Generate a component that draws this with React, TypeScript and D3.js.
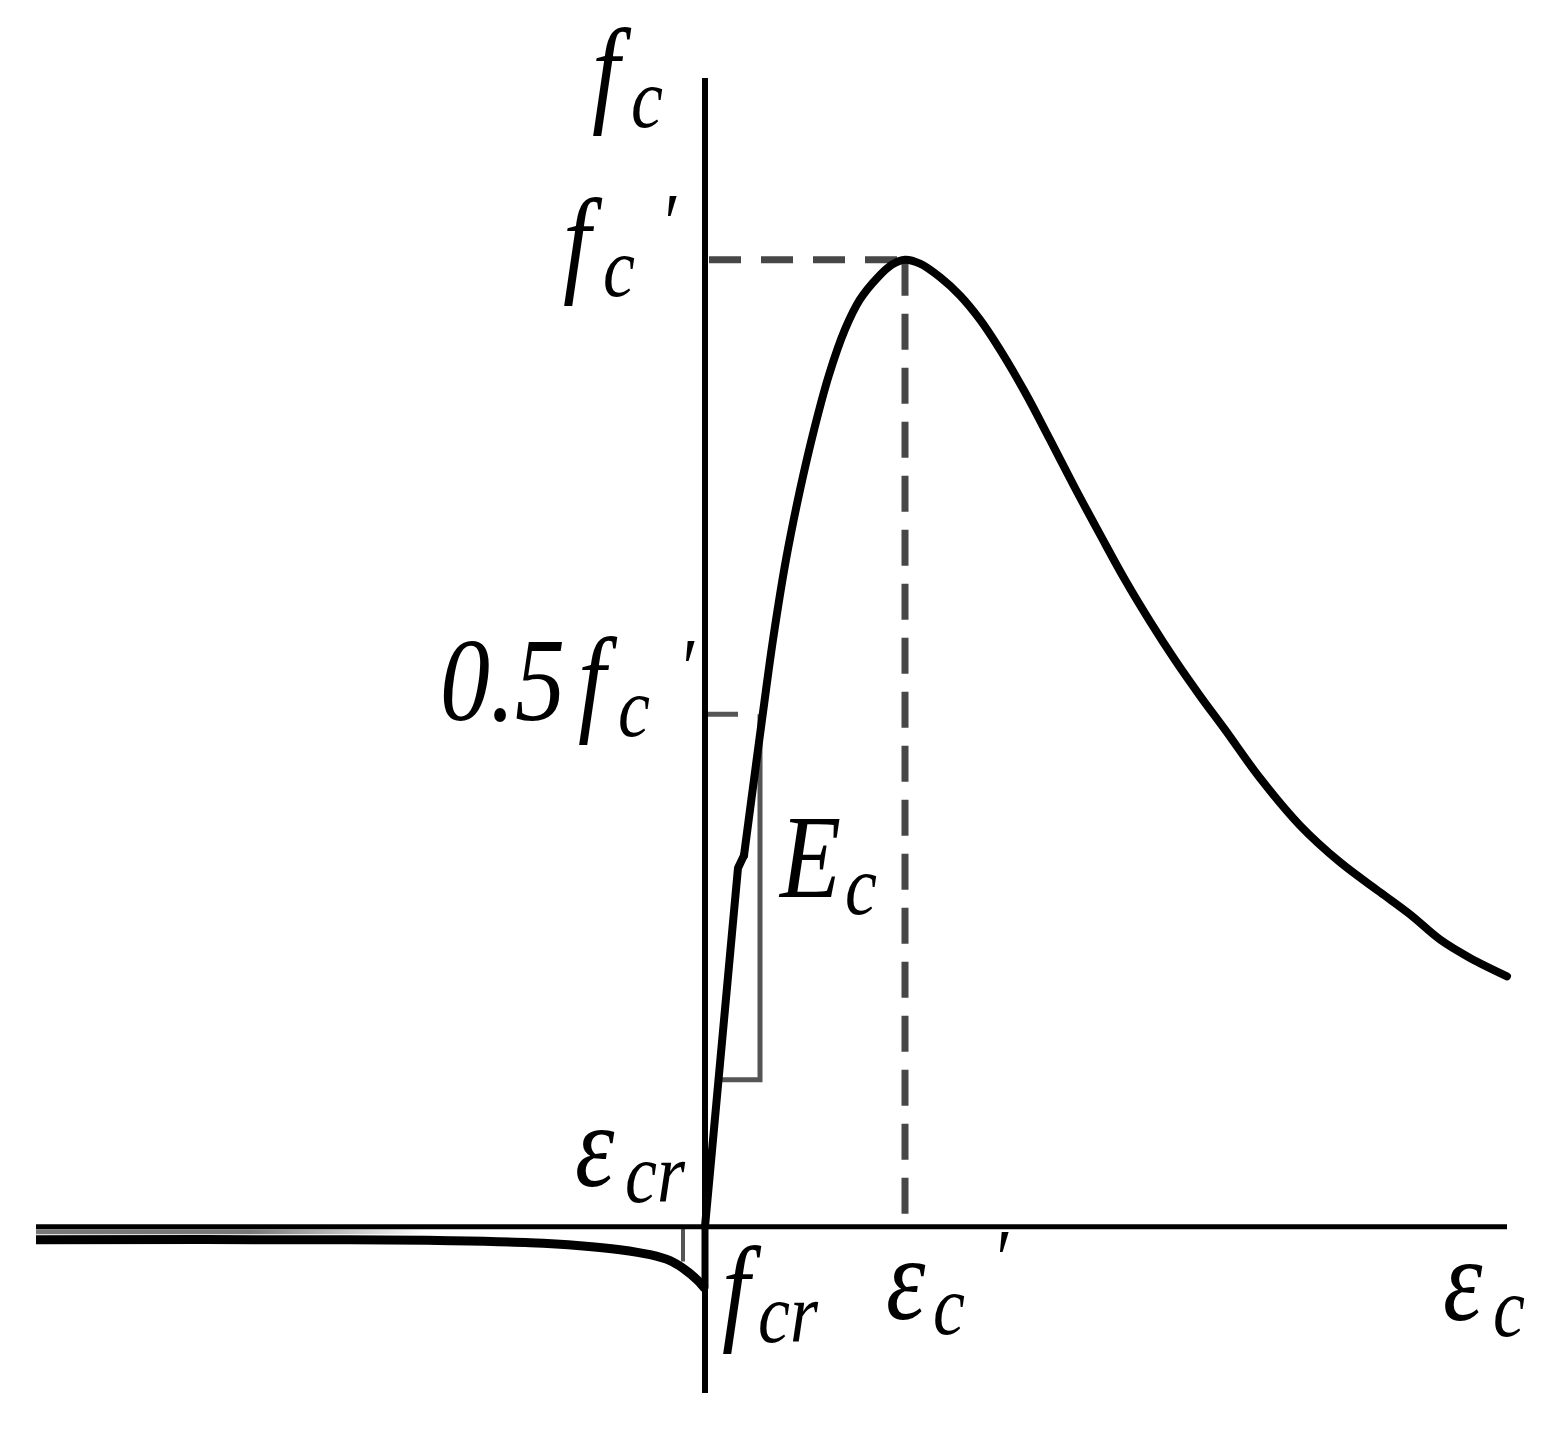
import React from 'react';
import * as d3 from 'd3';

const W = 1561;
const H = 1430;

// strain in units of eps_c', stress in units of f_c'
const tensionStrain = [-3.345, -1.775, -1.275, -0.875, -0.625, -0.425, -0.275, -0.175, -0.1, -0.04, 0];
const tensionStress = [-0.0135, -0.0135, -0.0145, -0.0165, -0.0196, -0.0238, -0.029, -0.0352, -0.0445, -0.0548, -0.0641];

const compStrain = [0, 0.165, 0.195, 0.232, 0.29, 0.34, 0.405, 0.475, 0.545, 0.62, 0.7, 0.775, 0.86, 0.935, 1.0,
  1.075, 1.175, 1.275, 1.375, 1.475, 1.6, 1.725, 1.85, 1.975, 2.1, 2.225, 2.35, 2.475, 2.6, 2.775, 2.975, 3.175, 3.375,
  3.525, 3.675, 3.825, 4.01];
const compStress = [0, 0.371, 0.384, 0.442, 0.532, 0.607, 0.69, 0.762, 0.824, 0.881, 0.928, 0.959, 0.981, 0.995, 1.0,
  0.996, 0.982, 0.963, 0.938, 0.907, 0.863, 0.814, 0.764, 0.716, 0.669, 0.626, 0.586, 0.549, 0.514, 0.464, 0.415, 0.377, 0.346,
  0.323, 0.297, 0.278, 0.259];
// the first points (elastic part with its small kink) are joined by straight segments
const linearCount = 3;

const strainExtent = [-3.345, 4.01];
const stressExtent = [-0.172, 1.188];

const peakStrain = 1;
const peakStress = 1;
const halfStress = 0.53;

// E_c slope marker and small tension marker
const slopeStrain = [0.085, 0.275];
const slopeStress = [0.152, 0.53];
const tensionTick = { strain: -0.11, stress: -0.036 };

const MAIN = 100;
const SUB = 72;
const STRETCH = 1.18;

// label pieces: offsets in px from the origin of the axes
const labels = [
  { t: 'f', dx: -113, dy: -1116, s: MAIN },
  { t: 'c', dx: -74, dy: -1100, s: SUB },
  { t: 'f', dx: -142, dy: -946, s: MAIN },
  { t: 'c', dx: -102, dy: -931, s: SUB },
  { t: '′', dx: -45, dy: -975, s: SUB },
  { t: '0.5', dx: -265, dy: -507, s: MAIN },
  { t: 'f', dx: -127, dy: -507, s: MAIN },
  { t: 'c', dx: -87, dy: -491, s: SUB },
  { t: '′', dx: -27, dy: -530, s: SUB },
  { t: 'E', dx: 75, dy: -330, s: MAIN },
  { t: 'c', dx: 140, dy: -313, s: SUB },
  { t: 'ε', dx: -130, dy: -41, s: MAIN },
  { t: 'cr', dx: -80, dy: -25, s: SUB },
  { t: 'f', dx: 17, dy: 102, s: MAIN },
  { t: 'cr', dx: 53, dy: 115, s: SUB },
  { t: 'ε', dx: 181, dy: 92, s: MAIN },
  { t: 'c', dx: 228, dy: 107, s: SUB },
  { t: '′', dx: 287, dy: 61, s: SUB },
  { t: 'ε', dx: 738, dy: 93, s: MAIN },
  { t: 'c', dx: 788, dy: 109, s: SUB },
];

// use a serif family that has a real italic face, if there is one
function pickSerif() {
  const cands = ['Liberation Serif', 'DejaVu Serif', 'Noto Serif', 'Times New Roman'];
  try {
    const ctx = document.createElement('canvas').getContext('2d');
    if (ctx) {
      for (const f of cands) {
        ctx.font = `100px '${f}'`;
        const a = ctx.measureText('fffcrE0.5').width;
        ctx.font = `italic 100px '${f}'`;
        const b = ctx.measureText('fffcrE0.5').width;
        if (Math.abs(a - b) > 1) return f;
      }
    }
  } catch (e) {}
  return 'Liberation Serif';
}

export default function App() {
  const serif = React.useMemo(() => `'${pickSerif()}', 'Times New Roman', serif`, []);

  const x = d3.scaleLinear().domain(strainExtent).range([36, 1507]);
  const y = d3.scaleLinear().domain(stressExtent).range([1393, 78]);

  const smooth = d3.line<[number, number]>()
    .x(d => x(d[0]))
    .y(d => y(d[1]))
    .curve(d3.curveCatmullRom.alpha(0.5));
  const straight = d3.line<[number, number]>()
    .x(d => x(d[0]))
    .y(d => y(d[1]));

  const tension = tensionStrain.map((e, i) => [e, tensionStress[i]] as [number, number]);
  const comp = compStrain.map((e, i) => [e, compStress[i]] as [number, number]);

  const ox = x(0);
  const oy = y(0);
  const dashColor = '#474747';
  const gray = '#555';

  return (
    <svg width={W} height={H} style={{ position: 'absolute', left: 0, top: 0, background: '#fff' }}>
      <defs>
        <linearGradient id="fade" gradientUnits="userSpaceOnUse" x1={x(-3.345)} x2={x(-1.4)} y1={0} y2={0}>
          <stop offset="0.55" stopColor="#777" stopOpacity={1} />
          <stop offset="1" stopColor="#777" stopOpacity={0} />
        </linearGradient>
      </defs>
      <rect width={W} height={H} fill="#fff" />

      {/* reference dashed lines */}
      <line x1={ox} x2={x(peakStrain)} y1={y(peakStress)} y2={y(peakStress)}
        stroke={dashColor} strokeWidth={7} strokeDasharray="32 20" strokeDashoffset={-4} />
      <line x1={x(peakStrain)} x2={x(peakStrain)} y1={y(peakStress)} y2={oy - 12}
        stroke={dashColor} strokeWidth={7} strokeDasharray="36 18" />
      <line x1={ox} x2={x(0.165)} y1={y(halfStress)} y2={y(halfStress)}
        stroke={gray} strokeWidth={5} />

      {/* E_c slope marker */}
      <polyline
        points={`${x(slopeStrain[0])},${y(slopeStress[0])} ${x(slopeStrain[1])},${y(slopeStress[0])} ${x(slopeStrain[1])},${y(slopeStress[1])}`}
        fill="none" stroke={gray} strokeWidth={5} />
      <line x1={x(tensionTick.strain)} x2={x(tensionTick.strain)} y1={oy} y2={y(tensionTick.stress)}
        stroke={gray} strokeWidth={4} />

      {/* axes */}
      <line x1={x(strainExtent[0])} x2={x(strainExtent[1])} y1={oy} y2={oy} stroke="#000" strokeWidth={5} />
      <line x1={ox} x2={ox} y1={y(stressExtent[0])} y2={y(stressExtent[1])} stroke="#000" strokeWidth={6} />
      <line x1={x(strainExtent[0])} x2={x(-1.4)} y1={oy + 5} y2={oy + 5} stroke="url(#fade)" strokeWidth={5} />

      {/* stress-strain curve */}
      <path d={smooth(tension) || ''} fill="none" stroke="#000" strokeWidth={9} strokeLinejoin="round" />
      <line x1={ox} x2={ox} y1={y(tensionStress[tensionStress.length - 1])} y2={oy} stroke="#000" strokeWidth={7} />
      <path d={straight(comp.slice(0, linearCount)) || ''} fill="none" stroke="#000" strokeWidth={8}
        strokeLinejoin="round" strokeLinecap="round" />
      <path d={smooth(comp.slice(linearCount - 1)) || ''} fill="none" stroke="#000" strokeWidth={8}
        strokeLinejoin="round" strokeLinecap="round" />

      {/* labels */}
      {labels.map((l, i) => (
        <text key={i} transform={`translate(${ox + l.dx},${oy + l.dy}) scale(1,${STRETCH})`}
          fontFamily={serif} fontStyle="italic" fontSize={l.s} fill="#000">{l.t}</text>
      ))}
    </svg>
  );
}
